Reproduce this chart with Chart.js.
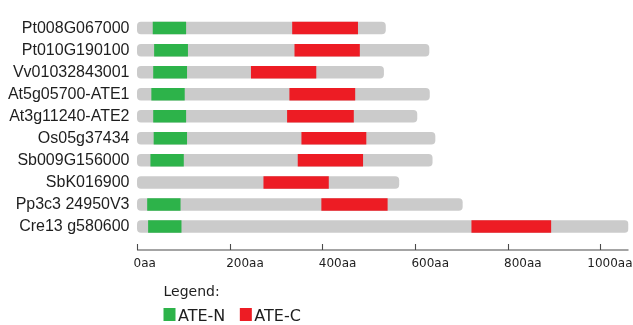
<!DOCTYPE html>
<html>
<head>
<meta charset="utf-8">
<title>ATE protein domains</title>
<script src="https://cdn.jsdelivr.net/npm/chart.js@4"></script>
<style>
  html, body { margin: 0; padding: 0; background: #fff; }
  canvas { display: block; }
</style>
</head>
<body>
<canvas id="domains" width="633" height="325"></canvas>
<script>
// Proteins and their lengths (aa), with the ATE-N and ATE-C domain spans
const proteins = ['Pt008G067000', 'Pt010G190100', 'Vv01032843001', 'At5g05700-ATE1', 'At3g11240-ATE2',
                  'Os05g37434', 'Sb009G156000', 'SbK016900', 'Pp3c3 24950V3', 'Cre13 g580600'];
const proteinLength = [537, 631, 533, 632, 605, 644, 638, 566, 703, 1061];
const ateNStart = [34, 37, 35, 31, 35, 36, 29, null, 22, 24];
const ateNEnd   = [106, 110, 108, 103, 106, 108, 101, null, 94, 96];
const ateCStart = [335, 340, 246, 329, 324, 355, 347, 273, 398, 722];
const ateCEnd   = [477, 481, 387, 471, 468, 495, 488, 414, 541, 894];
const tickValues = [0, 200, 400, 600, 800, 1000];
const tickUnit = 'aa';

const COLORS = { n: '#2db34a', c: '#ed1c24', body: '#cbcbcb', text: '#1e1e1e', axis: '#4a4a4a' };

const spans = (starts, ends) => starts.map((s, i) => (s == null ? null : [s, ends[i]]));

// Axis baseline with upward tick marks, the last tick label kept inside the canvas, and the key
const axisAndKey = {
  id: 'axisAndKey',
  beforeDraw(chart) {
    const items = chart.scales.x.getLabelItems(chart.chartArea);
    const last = items[items.length - 1];
    if (last) {
      last.options.textAlign = 'right';
      last.options.translation[0] = chart.width - 0.5;
    }
  },
  afterDraw(chart) {
    const { ctx, chartArea: ca, scales: { x } } = chart;
    const y = ca.bottom + 12.5;
    ctx.save();
    ctx.strokeStyle = COLORS.axis;
    ctx.lineWidth = 1.1;
    ctx.beginPath();
    ctx.moveTo(ca.left, y);
    ctx.lineTo(ca.right, y);
    x.ticks.forEach(t => {
      const px = Math.round(x.getPixelForValue(t.value)) + 0.5;
      ctx.moveTo(px, y);
      ctx.lineTo(px, y - 6);
    });
    ctx.stroke();

    // key
    const lx = ca.left + 26.5;
    ctx.textAlign = 'left';
    ctx.textBaseline = 'alphabetic';
    ctx.fillStyle = COLORS.text;
    ctx.font = '14px "DejaVu Sans", Verdana, sans-serif';
    ctx.fillText('Legend:', lx, ca.bottom + 58.2);
    ctx.font = '16px "DejaVu Sans", Verdana, sans-serif';
    let cx = lx;
    chart.data.datasets.filter(d => d.inKey).forEach(d => {
      ctx.fillStyle = d.backgroundColor;
      ctx.fillRect(cx, ca.bottom + 70.5, 12, 13);
      cx += 14.5;
      ctx.fillStyle = COLORS.text;
      ctx.fillText(d.label, cx, ca.bottom + 83.2);
      cx += ctx.measureText(d.label).width + 14.5;
    });
    ctx.restore();
  }
};

const barCommon = { grouped: false, categoryPercentage: 1, barPercentage: 0.567, borderWidth: 0 };

new Chart(document.getElementById('domains'), {
  type: 'bar',
  data: {
    labels: proteins,
    datasets: [
      { ...barCommon, label: 'ATE-N', inKey: true, data: spans(ateNStart, ateNEnd), backgroundColor: COLORS.n },
      { ...barCommon, label: 'ATE-C', inKey: true, data: spans(ateCStart, ateCEnd), backgroundColor: COLORS.c },
      { ...barCommon, label: 'Length', data: proteinLength.map(v => [0, v]), backgroundColor: COLORS.body,
        borderRadius: 4, borderSkipped: false }
    ]
  },
  options: {
    indexAxis: 'y',
    responsive: false,
    animation: false,
    layout: { padding: { top: 2.5, right: 4.5, bottom: 53.5, left: 0 } },
    plugins: { legend: { display: false }, tooltip: { enabled: false } },
    scales: {
      x: {
        type: 'linear',
        min: 0,
        max: Math.max(...proteinLength),
        afterBuildTicks: s => { s.ticks = tickValues.map(v => ({ value: v })); },
        afterFit: s => { s.paddingLeft = 0; s.paddingRight = 0; s.height = 34; },
        grid: { display: false, drawTicks: false },
        border: { display: false },
        ticks: {
          callback: v => v + tickUnit,
          align: 'start',
          labelOffset: -3.5,
          padding: 19,
          autoSkip: false,
          maxRotation: 0,
          color: COLORS.text,
          font: { family: '"DejaVu Sans", Verdana, sans-serif', size: 12 }
        }
      },
      y: {
        afterFit: s => { s.width = 137; },
        grid: { display: false, drawTicks: false },
        border: { display: false },
        ticks: {
          autoSkip: false,
          padding: 7.5,
          color: COLORS.text,
          font: { family: '"Liberation Sans", Arial, sans-serif', size: 16 }
        }
      }
    }
  },
  plugins: [axisAndKey]
});
</script>
</body>
</html>
